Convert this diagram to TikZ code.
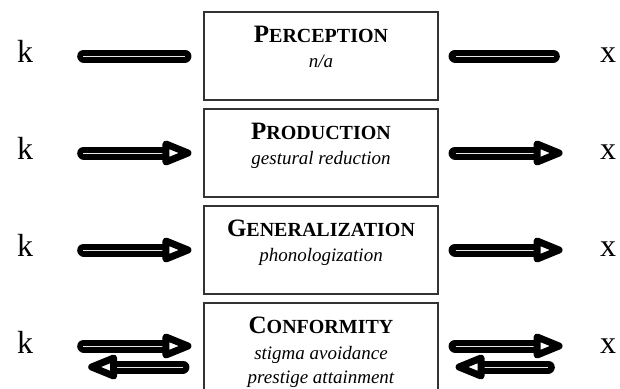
\documentclass[tikz,border=0pt]{standalone}
\usepackage{fontspec}
\setmainfont{Liberation Serif}
\usetikzlibrary{positioning}
\newcommand\smcap[2]{{\fontsize{25}{27}\selectfont#1}{\fontsize{20}{22}\selectfont#2}}

\begin{document}
\begin{tikzpicture}[x=1pt,y=-1pt]
    \tikzstyle{stage}=[draw=black!80, line width=1.1pt, minimum width=234pt, minimum height=88pt, inner sep=0pt]
    \tikzstyle{heading}=[font=\bfseries, inner sep=0pt, anchor=base]
    \tikzstyle{gloss}=[font=\itshape\fontsize{19}{22}\selectfont, inner sep=0pt, anchor=base]
    \tikzstyle{sound}=[font=\fontsize{32}{34}\selectfont, inner sep=0pt, anchor=base]
    \tikzstyle{fat}=[line width=13pt, line cap=round]
    \tikzstyle{core}=[draw=black!10, line width=0.3pt]
    \tikzset{head/.pic={\draw[line width=7pt, line join=round, fill=white] (-22,-9) -- (0,0) -- (-22,9) -- cycle;}}

    \useasboundingbox (0,0) rectangle (620,388);

    % stages
    \node[stage] (prc) at (321,56)  {};
    \node[stage] (prd) at (321,153) {};
    \node[stage] (gen) at (321,250) {};
    \node[stage] (cnf) at (321,347) {};

    \node[heading] (prct) at ([yshift=-31pt]prc.north) {\smcap{P}{ERCEPTION}};
    \node[gloss, below=25pt of prct.base, anchor=base] {n/a};
    \node[heading] (prdt) at ([yshift=-31pt]prd.north) {\smcap{P}{RODUCTION}};
    \node[gloss, below=25pt of prdt.base, anchor=base] {gestural reduction};
    \node[heading] (gent) at ([yshift=-31pt]gen.north) {\smcap{G}{ENERALIZATION}};
    \node[gloss, below=25pt of gent.base, anchor=base] {phonologization};
    \node[heading] (cnft) at ([yshift=-31pt]cnf.north) {\smcap{C}{ONFORMITY}};
    \node[gloss, below=26pt of cnft.base, anchor=base] (cnfa) {stigma avoidance};
    \node[gloss, below=24pt of cnfa.base, anchor=base] {prestige attainment};

    % k and x
    \foreach \r/\y in {1/56,2/153,3/250,4/347} {
      \node[sound] (k\r) at (25,\y+6) {k};
      \node[sound] (x\r) at (608,\y+6) {x};
    }

    % perception: plain bars
    \draw[fat, shorten <=50.5pt, shorten >=18.5pt] (k1.east |- prc.west) -- (prc.west);
    \draw[core, shorten <=50pt, shorten >=18pt] (k1.east |- prc.west) -- (prc.west);
    \draw[fat, shorten <=16.5pt, shorten >=46.5pt] (prc.east) -- (prc.east -| x1.west);
    \draw[core, shorten <=17pt, shorten >=46pt] (prc.east) -- (prc.east -| x1.west);

    % production, generalization
    \foreach \s/\r in {prd/2,gen/3} {
      \draw[fat, shorten <=50.5pt, shorten >=34pt] (k\r.east |- \s.west) -- (\s.west);
      \draw[core, shorten <=50pt, shorten >=39pt] (k\r.east |- \s.west) -- (\s.west);
      \pic at ([xshift=-15.5pt]\s.west) {head};
      \draw[fat, shorten <=16.5pt, shorten >=60pt] (\s.east) -- (\s.east -| x\r.west);
      \draw[core, shorten <=17pt, shorten >=65pt] (\s.east) -- (\s.east -| x\r.west);
      \pic at ([xshift=120.5pt]\s.east) {head};
    }

    % conformity: both ways
    \draw[fat, shorten <=50.5pt, shorten >=34pt] ([yshift=1pt]k4.east |- cnf.west) -- ([yshift=1pt]cnf.west);
    \draw[core, shorten <=50pt, shorten >=39pt] ([yshift=1pt]k4.east |- cnf.west) -- ([yshift=1pt]cnf.west);
    \pic at ([yshift=1pt, xshift=-15.5pt]cnf.west) {head};
    \draw[fat, shorten <=20.5pt, shorten >=77pt] ([yshift=-20pt]cnf.west) -- ([yshift=-20pt]k4.east |- cnf.west);
    \draw[core, shorten <=20pt, shorten >=83pt] ([yshift=-20pt]cnf.west) -- ([yshift=-20pt]k4.east |- cnf.west);
    \pic[rotate=180] at ([yshift=-20pt, xshift=58.5pt]k4.east |- cnf.west) {head};

    \draw[fat, shorten <=16.5pt, shorten >=60pt] ([yshift=1pt]cnf.east) -- ([yshift=1pt]cnf.east -| x4.west);
    \draw[core, shorten <=17pt, shorten >=65pt] ([yshift=1pt]cnf.east) -- ([yshift=1pt]cnf.east -| x4.west);
    \pic at ([yshift=1pt, xshift=120.5pt]cnf.east) {head};
    \draw[fat, shorten <=51.5pt, shorten >=42pt] ([yshift=-20pt]cnf.east -| x4.west) -- ([yshift=-20pt]cnf.east);
    \draw[core, shorten <=52pt, shorten >=45pt] ([yshift=-20pt]cnf.east -| x4.west) -- ([yshift=-20pt]cnf.east);
    \pic[rotate=180] at ([yshift=-20pt, xshift=20.5pt]cnf.east) {head};
\end{tikzpicture}
\end{document}
